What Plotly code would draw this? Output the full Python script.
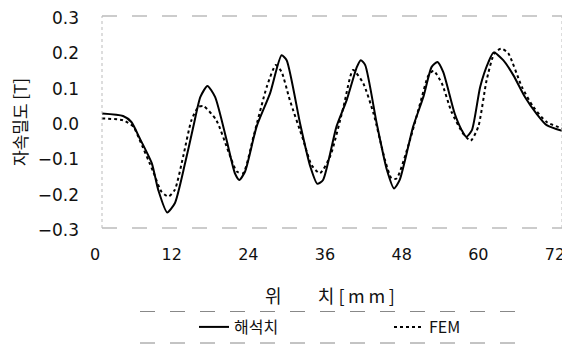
import plotly.graph_objects as go

# ---- data ----
x_anal = [0, 3.3, 4.6, 5.9, 7.8, 8.8, 10.2, 11.4, 13.0, 14.3, 15.4, 16.5, 17.7, 19.5, 20.8, 21.5, 22.4,
          24.2, 26.3, 28.1, 28.9, 31.0, 32.6, 33.7, 34.6, 36.7, 38.3, 39.9, 40.5, 41.2, 43.0, 44.6,
          45.7, 46.6, 48.7, 50.3, 51.6, 52.5, 53.4, 55.2, 56.3, 57.0, 57.9, 59.2, 60.5, 61.3, 62.8,
          64.4, 66.2, 68.0, 69.6, 72]
y_anal = [0.024, 0.017, 0.0, -0.046, -0.117, -0.192, -0.256, -0.23, -0.117, -0.013, 0.071, 0.102, 0.071,
          -0.051, -0.145, -0.164, -0.14, -0.013, 0.081, 0.189, 0.175, -0.004, -0.126, -0.175, -0.164,
          -0.013, 0.062, 0.156, 0.175, 0.161, -0.004, -0.136, -0.188, -0.164, -0.013, 0.071, 0.156,
          0.170, 0.142, 0.024, -0.023, -0.042, -0.023, 0.1, 0.170, 0.197, 0.175, 0.132, 0.071, 0.024,
          -0.009, -0.025]

x_fem = [0, 3.3, 4.9, 5.9, 8.0, 9.3, 10.4, 11.4, 12.7, 14.0, 15.1, 15.9, 17.9, 19.8, 21.1, 22.1, 23.7,
         25.8, 27.2, 28.1, 29.4, 31.5, 32.8, 34.1, 35.7, 37.8, 39.3, 40.9, 42.5, 44.3, 45.3, 46.1,
         48.2, 49.8, 51.1, 51.9, 53.2, 54.7, 56.5, 57.7, 58.9, 60.2, 61.4, 62.5, 63.6, 65.7, 67.5,
         69.6, 72]
y_fem = [0.010, 0.005, -0.013, -0.051, -0.14, -0.197, -0.211, -0.192, -0.098, 0.005, 0.043, 0.045, 0.005,
         -0.084, -0.14, -0.145, -0.042, 0.1, 0.161, 0.142, 0.062, -0.051, -0.122, -0.145, -0.098, 0.043,
         0.147, 0.109, 0.024, -0.108, -0.159, -0.16, -0.051, 0.053, 0.132, 0.145, 0.109, 0.029, -0.032,
         -0.053, -0.013, 0.118, 0.194, 0.208, 0.194, 0.1, 0.043, 0.0, -0.018]

x_ticks = [0, 12, 24, 36, 48, 60, 72]
y_ticks = [-0.3, -0.2, -0.1, 0.0, 0.1, 0.2, 0.3]
y_ticklabels = ["\u22120.3", "\u22120.2", "\u22120.1", "0.0", "0.1", "0.2", "0.3"]
series_names = ["해석치", "FEM"]
x_title = "위" + "\u00a0" * 9 + "치 [\u2009m\u2009m\u2009]"
y_title = "자속밀도 [T]"

FONT = "DejaVu Sans, Noto Sans CJK KR, sans-serif"
KFONT = "Noto Sans CJK KR, DejaVu Sans, sans-serif"

# page offset (default 8px body margin of the html page)
OFF = 8
W, H = 570, 346
# target plot box in page pixels
PL, PR, PT, PB = 102, 562, 16, 228
L, T = PL - OFF, PT - OFF
R, B = W - (PR - OFF), H - (PB - OFF)
pw, ph = W - L - R, H - T - B


def px_x(p):  # page pixel x -> paper x
    return (p - OFF - L) / pw


def px_y(p):  # page pixel y -> paper y
    return (H - B - (p - OFF)) / ph


fig = go.Figure()
fig.add_trace(go.Scatter(x=x_anal, y=y_anal, mode="lines", name=series_names[0],
                         line=dict(color="black", width=2, shape="spline", smoothing=0.6)))
fig.add_trace(go.Scatter(x=x_fem, y=y_fem, mode="lines", name=series_names[1],
                         line=dict(color="black", width=2, dash="dot", shape="spline", smoothing=0.6)))

fig.update_layout(
    width=W, height=H, autosize=False,
    margin=dict(l=L, r=R, t=T, b=B, pad=0, autoexpand=False),
    paper_bgcolor="white", plot_bgcolor="white",
    font=dict(family=FONT, color="#111"),
    xaxis=dict(range=[0, 72], tickvals=x_ticks, showgrid=False, zeroline=False,
               showline=False, ticks="", ticklabelstandoff=15, ticklabelshift=-7,
               ticklabeloverflow="allow", automargin=False,
               tickfont=dict(size=16, family=FONT, color="#111")),
    yaxis=dict(range=[-0.3, 0.3], tickvals=y_ticks, ticktext=y_ticklabels, showgrid=False,
               zeroline=False, showline=False, ticks="", ticklabelstandoff=22, automargin=False,
               ticklabeloverflow="allow", ticklabelshift=2,
               tickfont=dict(size=17, family=FONT, color="#111")),
    legend=dict(orientation="h", x=px_x(194), xanchor="left",
                y=px_y(327), yanchor="middle",
                font=dict(size=16, family=KFONT, color="#111"),
                entrywidth=150, entrywidthmode="pixels", bgcolor="rgba(0,0,0,0)"),
    showlegend=True,
)

# frame
fig.add_shape(type="line", xref="paper", yref="paper", x0=0, x1=1, y0=1, y1=1,
              line=dict(color="#999", width=1, dash="longdash"))
fig.add_shape(type="line", xref="paper", yref="paper", x0=0, x1=1, y0=0, y1=0,
              line=dict(color="#999", width=1, dash="longdash"))
fig.add_shape(type="line", xref="paper", yref="paper", x0=0, x1=0, y0=0, y1=1,
              line=dict(color="#bbb", width=1, dash="dot"))
fig.add_shape(type="line", xref="paper", yref="paper", x0=1, x1=1, y0=0, y1=1,
              line=dict(color="#bbb", width=1, dash="dot"))
# legend rules
for ypx in (311.5, 343):
    fig.add_shape(type="line", xref="paper", yref="paper",
                  x0=px_x(140), x1=px_x(524), y0=px_y(ypx), y1=px_y(ypx),
                  line=dict(color="#888", width=1, dash="longdash"))

# axis titles
fig.add_annotation(text=x_title, xref="paper", yref="paper", x=px_x(330),
                   y=px_y(295), showarrow=False, xanchor="center", yanchor="middle",
                   font=dict(size=18, family=KFONT, color="#111"))
fig.add_annotation(text=y_title, xref="paper", yref="paper", x=px_x(19),
                   y=px_y(122), showarrow=False, xanchor="center", yanchor="middle",
                   textangle=-90, font=dict(size=17, family=KFONT, color="#111"))

fig.write_html("out.html")
